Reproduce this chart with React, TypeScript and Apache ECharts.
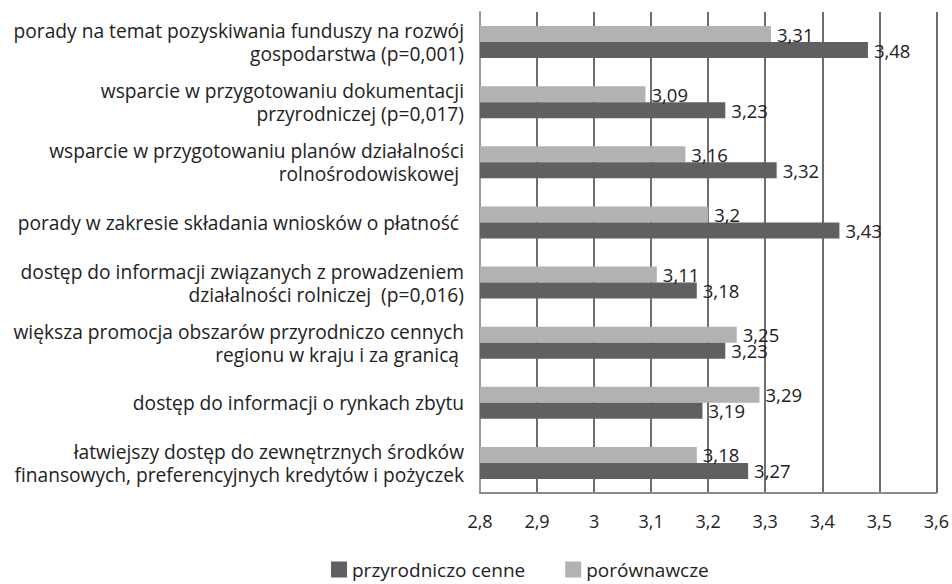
import React, { useEffect, useRef } from "react";
import * as echarts from "echarts";

const categories = [
  "porady na temat pozyskiwania funduszy na rozwój\ngospodarstwa (p=0,001)",
  "wsparcie w przygotowaniu dokumentacji\nprzyrodniczej (p=0,017)",
  "wsparcie w przygotowaniu planów działalności\nrolnośrodowiskowej ",
  "porady w zakresie składania wniosków o płatność ",
  "dostęp do informacji związanych z prowadzeniem\ndziałalności rolniczej  (p=0,016)",
  "większa promocja obszarów przyrodniczo cennych\nregionu w kraju i za granicą ",
  "dostęp do informacji o rynkach zbytu",
  "łatwiejszy dostęp do zewnętrznych środków\nfinansowych, preferencyjnych kredytów i pożyczek",
];

const porownawcze = [3.31, 3.09, 3.16, 3.2, 3.11, 3.25, 3.29, 3.18];
const przyrodniczoCenne = [3.48, 3.23, 3.32, 3.43, 3.18, 3.23, 3.19, 3.27];

const seriesNames = ["przyrodniczo cenne", "porównawcze"];

const fmt = (v: number) => String(Math.round(v * 100) / 100).replace(".", ",");

export default function App() {
  const ref = useRef<HTMLDivElement>(null);
  useEffect(() => {
    if (!ref.current) return;
    const chart = echarts.init(ref.current, null, { renderer: "svg" });
    const font = "'Open Sans', 'Noto Sans', sans-serif";
    const fs = 19.2;
    chart.setOption({
      animation: false,
      textStyle: { fontFamily: font },
      grid: { left: 480, right: 15, top: 12, bottom: 91, containLabel: false },
      legend: {
        data: seriesNames,
        left: 331,
        top: 560,
        padding: 0,
        itemWidth: 16,
        itemHeight: 16,
        itemGap: 40,
        icon: "rect",
        textStyle: { fontFamily: font, fontSize: 19, color: "#222", padding: [0, 0, 0, 0] },
      },
      xAxis: {
        type: "value",
        min: 2.8,
        max: 3.6,
        interval: 0.1,
        axisLine: { show: true, lineStyle: { color: "#8a8a8a", width: 2 } },
        axisTick: { show: false },
        splitLine: { show: true, lineStyle: { color: "#6e6e6e", width: 2 } },
        axisLabel: {
          fontFamily: font,
          fontSize: 18,
          color: "#222",
          margin: 19,
          formatter: (v: number) => String(Math.round(v * 10) / 10).replace(".", ","),
        },
      },
      yAxis: {
        type: "category",
        inverse: true,
        data: categories,
        axisLine: { show: true, lineStyle: { color: "#999", width: 2 } },
        axisTick: { show: false },
        axisLabel: {
          fontFamily: font,
          fontSize: fs,
          color: "#222",
          margin: 16,
          lineHeight: 23,
          align: "right",
        },
      },
      series: [
        {
          name: "porównawcze",
          type: "bar",
          data: porownawcze,
          barWidth: 16,
          barGap: "0%",
          itemStyle: { color: "#b2b2b2" },
          label: {
            show: true,
            position: "right",
            distance: 6,
            fontFamily: font,
            fontSize: 18.5,
            color: "#222",
            formatter: (p: any) => fmt(p.value),
          },
        },
        {
          name: "przyrodniczo cenne",
          type: "bar",
          data: przyrodniczoCenne,
          barWidth: 16,
          barGap: "0%",
          itemStyle: { color: "#606060" },
          label: {
            show: true,
            position: "right",
            distance: 6,
            fontFamily: font,
            fontSize: 18.5,
            color: "#222",
            formatter: (p: any) => fmt(p.value),
          },
        },
      ],
    });
    return () => chart.dispose();
  }, []);
  return <div ref={ref} style={{ width: 952, height: 584, position: "absolute", left: 0, top: 0 }} />;
}
